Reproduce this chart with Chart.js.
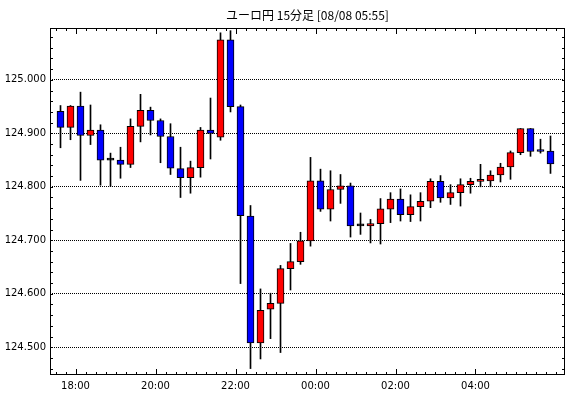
<!DOCTYPE html>
<html>
<head>
<meta charset="utf-8">
<script src="https://cdn.jsdelivr.net/npm/chart.js@4"></script>
<style>
  html, body { margin: 0; padding: 0; background: #fff; }
</style>
</head>
<body>
<canvas id="candleChart" width="570" height="398"></canvas>
<script>
// 15-minute candles, 17:30 .. 05:45
const times = [
  '17:30', '17:45', '18:00', '18:15', '18:30', '18:45', '19:00', '19:15', '19:30', '19:45',
  '20:00', '20:15', '20:30', '20:45', '21:00', '21:15', '21:30', '21:45', '22:00', '22:15',
  '22:30', '22:45', '23:00', '23:15', '23:30', '23:45', '00:00', '00:15', '00:30', '00:45',
  '01:00', '01:15', '01:30', '01:45', '02:00', '02:15', '02:30', '02:45', '03:00', '03:15',
  '03:30', '03:45', '04:00', '04:15', '04:30', '04:45', '05:00', '05:15', '05:30', '05:45'
];
const opens = [
  124.941, 124.911, 124.951, 124.896, 124.906, 124.850, 124.850, 124.842, 124.913, 124.943,
  124.924, 124.894, 124.834, 124.817, 124.836, 124.906, 124.893, 125.075, 124.950, 124.745,
  124.508, 124.571, 124.582, 124.647, 124.660, 124.699, 124.811, 124.758, 124.795, 124.802,
  124.727, 124.727, 124.731, 124.758, 124.777, 124.748, 124.763, 124.773, 124.810, 124.779,
  124.789, 124.804, 124.810, 124.811, 124.822, 124.837, 124.864, 124.909, 124.867, 124.867
];
const highs = [
  124.952, 124.952, 124.977, 124.953, 124.916, 124.863, 124.874, 124.927, 124.973, 124.949,
  124.927, 124.918, 124.874, 124.848, 124.911, 124.966, 125.088, 125.092, 124.953, 124.765,
  124.609, 124.601, 124.653, 124.694, 124.715, 124.855, 124.833, 124.830, 124.823, 124.807,
  124.751, 124.739, 124.778, 124.789, 124.796, 124.785, 124.789, 124.815, 124.821, 124.804,
  124.815, 124.816, 124.842, 124.830, 124.844, 124.867, 124.909, 124.909, 124.889, 124.895
];
const lows = [
  124.873, 124.888, 124.812, 124.879, 124.803, 124.801, 124.816, 124.836, 124.884, 124.897,
  124.845, 124.823, 124.780, 124.788, 124.818, 124.852, 124.887, 124.940, 124.619, 124.460,
  124.478, 124.516, 124.490, 124.607, 124.655, 124.689, 124.754, 124.736, 124.769, 124.706,
  124.711, 124.695, 124.693, 124.733, 124.736, 124.735, 124.736, 124.761, 124.771, 124.767,
  124.764, 124.788, 124.800, 124.800, 124.809, 124.814, 124.860, 124.857, 124.863, 124.825
];
const closes = [
  124.911, 124.951, 124.896, 124.906, 124.850, 124.850, 124.842, 124.913, 124.943, 124.924,
  124.894, 124.835, 124.817, 124.836, 124.906, 124.900, 125.075, 124.950, 124.746, 124.508,
  124.569, 124.582, 124.647, 124.660, 124.699, 124.811, 124.758, 124.795, 124.802, 124.727,
  124.727, 124.731, 124.759, 124.777, 124.748, 124.763, 124.773, 124.810, 124.779, 124.789,
  124.804, 124.810, 124.811, 124.822, 124.837, 124.864, 124.909, 124.866, 124.866, 124.843
];
const xTickLabels = ['18:00', '20:00', '22:00', '00:00', '02:00', '04:00'];
const yTicks = [124.5, 124.6, 124.7, 124.8, 124.9, 125.0];

const wicks = times.map((t, i) => ({ x: i, y: [lows[i], highs[i]] }));
const bodies = times.map((t, i) => ({ x: i, y: [Math.min(opens[i], closes[i]), Math.max(opens[i], closes[i])] }));
const bodyColors = times.map((t, i) =>
  closes[i] > opens[i] ? '#ff0000' : closes[i] < opens[i] ? '#0000ff' : '#000000');
// a tick sits on the boundary before the candle that starts at that time
const xTickPos = xTickLabels.map(l => times.indexOf(l) - 0.5);

// black frame with small inward ticks on all four sides
const frame = {
  id: 'frame',
  afterDraw(chart) {
    const { ctx, chartArea: a, scales: { x, y } } = chart;
    ctx.save();
    ctx.strokeStyle = '#000';
    ctx.lineWidth = 1;
    ctx.beginPath();
    for (let k = -0.5; k < x.max; k += 1) {
      const px = Math.round(x.getPixelForValue(k)) + 0.5;
      const len = xTickPos.includes(k) ? 6 : 3;
      ctx.moveTo(px, a.bottom); ctx.lineTo(px, a.bottom - len);
      ctx.moveTo(px, a.top); ctx.lineTo(px, a.top + len);
    }
    for (let v = 124.46; v < y.max; v += 0.02) {
      const py = Math.round(y.getPixelForValue(v)) + 0.5;
      ctx.moveTo(a.left, py); ctx.lineTo(a.left + 3, py);
      ctx.moveTo(a.right, py); ctx.lineTo(a.right - 3, py);
    }
    ctx.stroke();
    ctx.strokeRect(Math.round(a.left) + 0.5, Math.round(a.top) + 0.5,
      Math.round(a.right - a.left) - 1, Math.round(a.bottom - a.top) - 1);
    ctx.restore();
  }
};

const axisFont = { family: "'DejaVu Sans'", size: 10 };

new Chart(document.getElementById('candleChart'), {
  type: 'bar',
  data: {
    datasets: [{
      label: 'body',
      data: bodies,
      backgroundColor: bodyColors,
      borderColor: '#000',
      borderWidth: 1,
      borderSkipped: false,
      barThickness: 7,
      minBarLength: 2,
      grouped: false,
      order: 1
    }, {
      label: 'wick',
      data: wicks,
      backgroundColor: '#000',
      borderWidth: 0,
      barThickness: 1,
      grouped: false,
      order: 2
    }]
  },
  options: {
    responsive: false,
    animation: false,
    layout: { padding: { right: 5 } },
    plugins: {
      legend: { display: false },
      tooltip: { enabled: false },
      title: {
        display: true,
        text: 'ユーロ円 15分足 [08/08 05:55]',
        fullSize: false,
        color: '#000',
        font: { family: "'Noto Sans CJK JP'", size: 12, weight: 'normal', lineHeight: 1.2 },
        padding: { top: 8, bottom: 5.6 }
      }
    },
    scales: {
      x: {
        type: 'linear',
        offset: false,
        min: -1.05,
        max: 50.45,
        grid: { display: false, drawTicks: false, offset: false },
        border: { display: false },
        afterBuildTicks: s => { s.ticks = xTickPos.map(v => ({ value: v })); },
        afterFit: s => { s.height = 23; },
        ticks: {
          autoSkip: false,
          maxRotation: 0,
          padding: 5,
          color: '#000',
          font: axisFont,
          callback: (v, i) => xTickLabels[i]
        }
      },
      y: {
        min: 124.448,
        max: 125.097,
        grid: { color: '#000', lineWidth: 1, drawTicks: false },
        border: { display: false, dash: [1, 1] },
        afterBuildTicks: s => { s.ticks = yTicks.map(v => ({ value: v })); },
        afterFit: s => { s.width = 50; },
        ticks: {
          padding: 4,
          color: '#000',
          font: axisFont,
          callback: v => v.toFixed(3)
        }
      }
    }
  },
  plugins: [frame]
});
</script>
</body>
</html>
